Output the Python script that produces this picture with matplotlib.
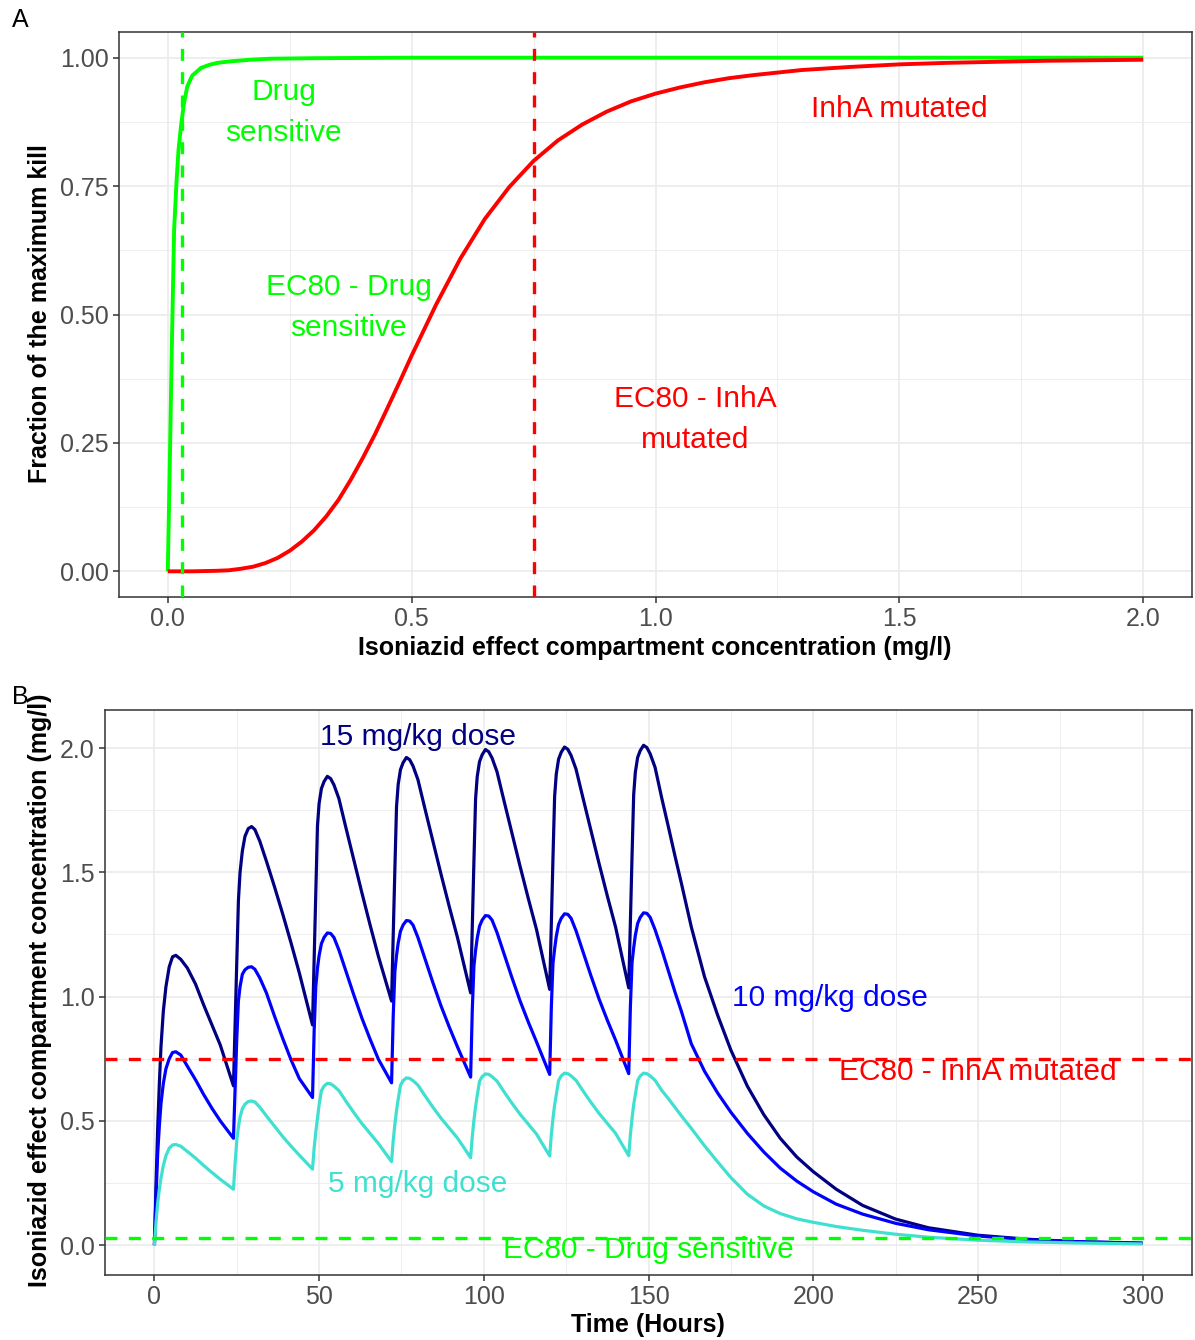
import matplotlib
matplotlib.use("Agg")
import matplotlib.pyplot as plt
from matplotlib.ticker import MultipleLocator, FormatStrFormatter

plt.rcParams['font.family'] = ['Liberation Sans', 'DejaVu Sans']

# ---------------- Panel A data ----------------
conc_sensitive = [0, 0.004, 0.008, 0.013, 0.018, 0.022, 0.027, 0.033, 0.040, 0.050,
                  0.068, 0.085, 0.102, 0.13, 0.17, 0.21, 0.3, 0.5, 1.0, 1.5, 2.0]
kill_sensitive = [0, 0.2, 0.42, 0.665, 0.76, 0.82, 0.866, 0.91, 0.944, 0.965,
                  0.98, 0.986, 0.99, 0.993, 0.996, 0.998, 0.999, 1.0, 1.0, 1.0, 1.0]

conc_inha = [0, 0.05, 0.1, 0.125, 0.15, 0.175, 0.2, 0.225, 0.25, 0.275, 0.3, 0.325,
             0.35, 0.375, 0.4, 0.425, 0.45, 0.475, 0.5, 0.55, 0.6, 0.65, 0.7, 0.75,
             0.8, 0.85, 0.9, 0.95, 1.0, 1.05, 1.1, 1.15, 1.2, 1.25, 1.3, 1.4, 1.5,
             1.6, 1.7, 1.8, 1.9, 2.0]
kill_inha = [0, 0.0, 0.001, 0.002, 0.005, 0.009, 0.016, 0.026, 0.04, 0.058, 0.08, 0.107,
             0.139, 0.178, 0.221, 0.267, 0.317, 0.368, 0.42, 0.519, 0.609, 0.686, 0.748, 0.799,
             0.839, 0.87, 0.895, 0.915, 0.93, 0.942, 0.952, 0.96, 0.966, 0.971, 0.976, 0.982, 0.987,
             0.99, 0.992, 0.994, 0.995, 0.996]

ec80_sensitive = 0.03
ec80_inha = 0.75

# ---------------- Panel B data ----------------
time_h = [0, 0.5, 1, 1.5, 2, 2.7, 3.5, 4.5, 5.5, 6.5, 8, 10, 12.5, 15, 17.5, 20,
          24, 24.5, 25, 25.5, 26, 26.7, 27.5, 28.5, 29.5, 30.5, 32, 34, 36.5, 39, 41.5, 44,
          48, 48.5, 49, 49.5, 50, 50.7, 51.5, 52.5, 53.5, 54.5, 56, 58, 60.5, 63, 65.5, 68,
          72, 72.5, 73, 73.5, 74, 74.7, 75.5, 76.5, 77.5, 78.5, 80, 82, 84.5, 87, 89.5, 92,
          96, 96.5, 97, 97.5, 98, 98.7, 99.5, 100.5, 101.5, 102.5, 104, 106, 108.5, 111, 113.5, 116,
          120, 120.5, 121, 121.5, 122, 122.7, 123.5, 124.5, 125.5, 126.5, 128, 130, 132.5, 135, 137.5, 140,
          144, 144.5, 145, 145.5, 146, 146.7, 147.5, 148.5, 149.5, 150.5, 152,
          154, 156, 158, 160, 163, 167, 171, 175, 180, 185, 190, 195, 200, 207, 215,
          225, 235, 250, 265, 280, 300]

conc_15 = [0, 0.25, 0.47, 0.65, 0.80, 0.94, 1.04, 1.12, 1.16, 1.166, 1.15, 1.115, 1.05, 0.965, 0.885, 0.805,
           0.641, 0.885, 1.13, 1.385, 1.50, 1.586, 1.645, 1.676, 1.684, 1.672, 1.625, 1.545, 1.44, 1.33, 1.215, 1.095,
           0.886, 1.156, 1.416, 1.687, 1.777, 1.837, 1.865, 1.886, 1.877, 1.852, 1.797, 1.687, 1.552, 1.417, 1.287, 1.162,
           0.982, 1.252, 1.512, 1.763, 1.853, 1.913, 1.941, 1.962, 1.953, 1.928, 1.873, 1.763, 1.628, 1.493, 1.363, 1.238,
           1.015, 1.285, 1.545, 1.795, 1.885, 1.945, 1.973, 1.994, 1.985, 1.96, 1.905, 1.795, 1.66, 1.525, 1.395, 1.27,
           1.029, 1.299, 1.559, 1.805, 1.895, 1.955, 1.983, 2.004, 1.995, 1.97, 1.915, 1.805, 1.67, 1.535, 1.405, 1.28,
           1.035, 1.305, 1.565, 1.812, 1.902, 1.962, 1.99, 2.011, 2.002, 1.977, 1.922,
           1.80, 1.685, 1.568, 1.455, 1.28, 1.08, 0.925, 0.785, 0.64, 0.525, 0.43, 0.355, 0.296, 0.225, 0.16,
           0.105, 0.07, 0.04, 0.024, 0.014, 0.008]

conc_10 = [0, 0.20, 0.37, 0.48, 0.57, 0.65, 0.71, 0.75, 0.775, 0.778, 0.765, 0.72, 0.665, 0.605, 0.55, 0.50,
           0.43, 0.63, 0.83, 0.983, 1.04, 1.09, 1.108, 1.118, 1.12, 1.11, 1.075, 1.015, 0.92, 0.83, 0.745, 0.67,
           0.594, 0.864, 1.041, 1.115, 1.165, 1.213, 1.238, 1.256, 1.254, 1.238, 1.188, 1.108, 1.008, 0.913, 0.828, 0.748,
           0.653, 0.923, 1.10, 1.165, 1.215, 1.263, 1.288, 1.306, 1.304, 1.288, 1.238, 1.158, 1.058, 0.963, 0.878, 0.798,
           0.676, 0.946, 1.123, 1.185, 1.235, 1.283, 1.308, 1.326, 1.324, 1.308, 1.258, 1.178, 1.078, 0.983, 0.898, 0.818,
           0.687, 0.957, 1.134, 1.192, 1.242, 1.29, 1.315, 1.333, 1.331, 1.315, 1.265, 1.185, 1.085, 0.99, 0.905, 0.825,
           0.69, 0.96, 1.137, 1.196, 1.246, 1.294, 1.319, 1.337, 1.335, 1.319, 1.269,
           1.19, 1.105, 1.02, 0.94, 0.81, 0.70, 0.612, 0.535, 0.45, 0.375, 0.31, 0.258, 0.215, 0.165, 0.125,
           0.088, 0.062, 0.037, 0.022, 0.014, 0.008]

conc_5 = [0, 0.095, 0.17, 0.225, 0.27, 0.32, 0.36, 0.39, 0.403, 0.405, 0.398, 0.377, 0.35, 0.32, 0.292, 0.265,
          0.225, 0.33, 0.42, 0.475, 0.515, 0.549, 0.567, 0.578, 0.58, 0.576, 0.555, 0.52, 0.478, 0.436, 0.398, 0.362,
          0.306, 0.391, 0.456, 0.511, 0.564, 0.621, 0.64, 0.651, 0.649, 0.64, 0.622, 0.582, 0.534, 0.489, 0.449, 0.409,
          0.336, 0.421, 0.486, 0.541, 0.586, 0.643, 0.662, 0.673, 0.671, 0.662, 0.644, 0.604, 0.556, 0.511, 0.471, 0.431,
          0.352, 0.437, 0.502, 0.557, 0.602, 0.659, 0.678, 0.689, 0.687, 0.678, 0.66, 0.62, 0.572, 0.527, 0.487, 0.447,
          0.359, 0.444, 0.509, 0.564, 0.605, 0.662, 0.681, 0.692, 0.69, 0.681, 0.663, 0.623, 0.575, 0.53, 0.49, 0.45,
          0.36, 0.445, 0.51, 0.565, 0.605, 0.662, 0.681, 0.692, 0.69, 0.681, 0.663,
          0.623, 0.59, 0.555, 0.52, 0.47, 0.40, 0.335, 0.272, 0.205, 0.158, 0.127, 0.106, 0.092, 0.075, 0.06,
          0.044, 0.032, 0.02, 0.013, 0.009, 0.005]

NAVY = '#000080'
BLUE = '#0000FF'
TURQ = '#40E0D0'
GREEN = '#00FF00'
RED = '#FF0000'

W, H = 1195, 1340
fig = plt.figure(figsize=(W / 100, H / 100), dpi=100)


def frac_box(l, t, r, b):
    return [l / W, 1 - b / H, (r - l) / W, (b - t) / H]


def style(ax):
    ax.set_facecolor('white')
    for s in ax.spines.values():
        s.set_color('#333333')
        s.set_linewidth(1.1)
    ax.grid(which='major', color='#EBEBEB', lw=1.2)
    ax.grid(which='minor', color='#EBEBEB', lw=0.6)
    ax.set_axisbelow(True)
    ax.tick_params(which='major', length=4.5, width=1.1, color='#333333',
                   labelsize=18, labelcolor='#4D4D4D', pad=3)
    ax.tick_params(which='minor', length=0)


DASH = (0, (3.6, 3.4))

# ---------------- Panel A ----------------
axA = fig.add_axes(frac_box(119, 32, 1192, 597))
style(axA)
axA.plot(conc_sensitive, kill_sensitive, color=GREEN, lw=2.8, solid_capstyle='butt',
         solid_joinstyle='round', zorder=3)
axA.plot(conc_inha, kill_inha, color=RED, lw=2.8, solid_capstyle='butt',
         solid_joinstyle='round', zorder=3)
axA.axvline(ec80_sensitive, color=GREEN, lw=2.4, linestyle=DASH, zorder=4)
axA.axvline(ec80_inha, color=RED, lw=2.4, linestyle=DASH, zorder=4)
axA.set_xlim(-0.1, 2.1)
axA.set_ylim(-0.05, 1.05)
axA.xaxis.set_major_locator(MultipleLocator(0.5))
axA.xaxis.set_minor_locator(MultipleLocator(0.25))
axA.yaxis.set_major_locator(MultipleLocator(0.25))
axA.yaxis.set_minor_locator(MultipleLocator(0.125))
axA.xaxis.set_major_formatter(FormatStrFormatter('%.1f'))
axA.yaxis.set_major_formatter(FormatStrFormatter('%.2f'))

txtkw = dict(ha='center', va='center', fontsize=21.5, linespacing=1.6)
axA.text(0.238, 0.894, 'Drug\nsensitive', color=GREEN, **txtkw)
axA.text(1.5, 0.90, 'InhA mutated', color=RED, **txtkw)
axA.text(0.371, 0.513, 'EC80 - Drug\nsensitive', color=GREEN, **txtkw)
axA.text(1.082, 0.296, 'EC80 - InhA\nmutated', color=RED, **txtkw)

# ---------------- Panel B ----------------
axB = fig.add_axes(frac_box(105, 710, 1192, 1275))
style(axB)
for series, col in ((conc_15, NAVY), (conc_10, BLUE), (conc_5, TURQ)):
    axB.plot(time_h, series, color=col, lw=2.3, solid_capstyle='butt',
             solid_joinstyle='round', zorder=3)
axB.axhline(ec80_inha, color=RED, lw=2.4, linestyle=DASH, zorder=4)
axB.axhline(ec80_sensitive, color=GREEN, lw=2.4, linestyle=DASH, zorder=4)
axB.set_xlim(-15, 315)
axB.set_ylim(-0.12, 2.153)
axB.xaxis.set_major_locator(MultipleLocator(50))
axB.xaxis.set_minor_locator(MultipleLocator(25))
axB.yaxis.set_major_locator(MultipleLocator(0.5))
axB.yaxis.set_minor_locator(MultipleLocator(0.25))
axB.xaxis.set_major_formatter(FormatStrFormatter('%d'))
axB.yaxis.set_major_formatter(FormatStrFormatter('%.1f'))

axB.text(80, 2.044, '15 mg/kg dose', color=NAVY, **txtkw)
axB.text(205, 0.994, '10 mg/kg dose', color=BLUE, **txtkw)
axB.text(250, 0.696, 'EC80 - InhA mutated', color=RED, **txtkw)
axB.text(80, 0.245, '5 mg/kg dose', color=TURQ, **txtkw)
axB.text(150, -0.02, 'EC80 - Drug sensitive', color=GREEN, **txtkw)

# ---------------- labels ----------------
lab = dict(fontsize=18, fontweight='bold', color='black', ha='center', va='center')
fig.text(40 / W, 1 - 314 / H, 'Fraction of the maximum kill', rotation=90, **lab)
fig.text(655 / W, 1 - 648 / H, 'Isoniazid effect compartment concentration (mg/l)', **lab)
fig.text(40 / W, 1 - 990 / H, 'Isoniazid effect compartment concentration (mg/l)', rotation=90, **lab)
fig.text(648 / W, 1 - 1325 / H, 'Time (Hours)', **lab)

fig.text(20 / W, 1 - 20 / H, 'A', fontsize=18, ha='center', va='center', color='black')
fig.text(20 / W, 1 - 697 / H, 'B', fontsize=18, ha='center', va='center', color='black')

fig.savefig('out.png', dpi=100, facecolor='white')
